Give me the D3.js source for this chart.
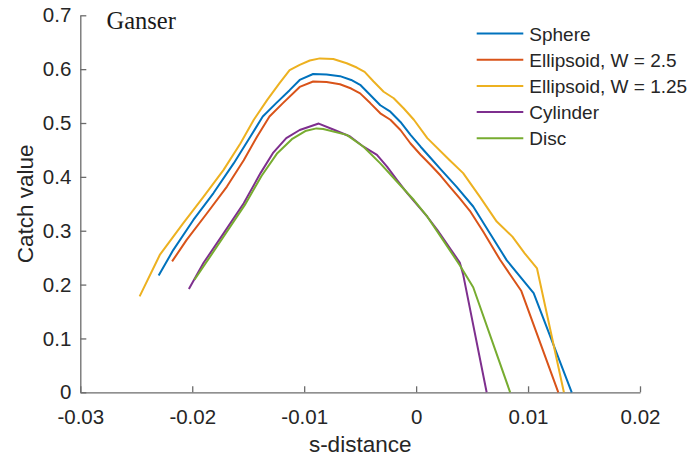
<!DOCTYPE html>
<html>
<head>
<meta charset="utf-8">
<script src="https://cdn.jsdelivr.net/npm/d3@7"></script>
<style>
  html, body { margin: 0; padding: 0; background: #fff; }
  svg { display: block; }
  .tick text { font-family: "Liberation Sans", Arial, sans-serif; font-size: 20.5px; fill: #262626; }
</style>
</head>
<body>
<svg id="chart" width="691" height="464"></svg>
<script>
// Catch value vs s-distance for five particle shapes (Ganser drag model)
const seriesNames = ["Sphere", "Ellipsoid, W = 2.5", "Ellipsoid, W = 1.25", "Cylinder", "Disc"];
const seriesColors = ["#0072BD", "#D95319", "#EDB120", "#7E2F8E", "#77AC30"];

const sphereX = [-0.0230, -0.0217, -0.0199, -0.0181, -0.0163, -0.0148, -0.0137, -0.0125, -0.0113, -0.0104, -0.0092, -0.0080, -0.0068, -0.0058, -0.0050, -0.0041, -0.0032, -0.0023, -0.0014, -0.0005, 0.0004, 0.0013, 0.0022, 0.0036, 0.0051, 0.0066, 0.0081, 0.0105, 0.0139];
const sphereY = [0.217, 0.264, 0.320, 0.370, 0.425, 0.475, 0.512, 0.537, 0.561, 0.580, 0.591, 0.590, 0.587, 0.580, 0.571, 0.552, 0.533, 0.521, 0.502, 0.478, 0.456, 0.435, 0.414, 0.382, 0.345, 0.295, 0.245, 0.184, 0.0];

const ell25X = [-0.0218, -0.0205, -0.0187, -0.0169, -0.0154, -0.0142, -0.0131, -0.0119, -0.0104, -0.0092, -0.0080, -0.0068, -0.0058, -0.0050, -0.0041, -0.0032, -0.0023, -0.0014, -0.0005, 0.0004, 0.0013, 0.0022, 0.0030, 0.0039, 0.0048, 0.0060, 0.0075, 0.0094, 0.0127];
const ell25Y = [0.243, 0.283, 0.332, 0.382, 0.431, 0.475, 0.512, 0.537, 0.567, 0.577, 0.576, 0.572, 0.564, 0.555, 0.537, 0.518, 0.506, 0.487, 0.462, 0.441, 0.422, 0.402, 0.382, 0.360, 0.337, 0.298, 0.246, 0.188, 0.0];

const ell125X = [-0.0247, -0.0229, -0.0208, -0.0190, -0.0172, -0.0157, -0.0145, -0.0133, -0.0122, -0.0113, -0.0104, -0.0095, -0.0086, -0.0074, -0.0062, -0.0053, -0.0046, -0.0038, -0.0029, -0.0020, -0.0011, -0.0002, 0.0010, 0.0030, 0.0042, 0.0057, 0.0072, 0.0086, 0.0097, 0.0108, 0.0132];
const ell125Y = [0.178, 0.255, 0.314, 0.363, 0.413, 0.462, 0.506, 0.543, 0.574, 0.598, 0.608, 0.616, 0.620, 0.619, 0.611, 0.603, 0.595, 0.577, 0.558, 0.546, 0.527, 0.506, 0.472, 0.431, 0.407, 0.363, 0.317, 0.289, 0.258, 0.230, 0.0];

const cylinderX = [-0.0203, -0.0190, -0.0172, -0.0154, -0.0139, -0.0128, -0.0116, -0.0104, -0.0087, -0.0074, -0.0059, -0.0047, -0.0035, -0.0026, -0.0017, -0.0008, 0.0001, 0.0010, 0.0019, 0.0039, 0.0042, 0.0063];
const cylinderY = [0.192, 0.240, 0.295, 0.351, 0.407, 0.444, 0.472, 0.487, 0.499, 0.488, 0.475, 0.456, 0.441, 0.419, 0.394, 0.370, 0.348, 0.326, 0.301, 0.241, 0.219, 0.0];

const discX = [-0.0198, -0.0171, -0.0153, -0.0138, -0.0124, -0.0111, -0.0099, -0.0089, -0.0083, -0.0062, -0.0047, -0.0032, -0.0017, -0.0002, 0.0010, 0.0022, 0.0039, 0.0051, 0.0084];
const discY = [0.209, 0.292, 0.348, 0.402, 0.444, 0.470, 0.485, 0.490, 0.489, 0.478, 0.456, 0.425, 0.391, 0.357, 0.326, 0.289, 0.236, 0.195, 0.0];

const xTicks = [-0.03, -0.02, -0.01, 0, 0.01, 0.02];
const yTicks = [0, 0.1, 0.2, 0.3, 0.4, 0.5, 0.6, 0.7];

const seriesX = [sphereX, ell25X, ell125X, cylinderX, discX];
const seriesY = [sphereY, ell25Y, ell125Y, cylinderY, discY];
const series = seriesNames.map((name, i) => ({
  name, color: seriesColors[i],
  points: seriesX[i].map((x, j) => [x, seriesY[i][j]])
}));

const margin = { left: 80.3, right: 51, top: 15.3, bottom: 71.7 };
const W = 691, H = 464;
const svg = d3.select("#chart");

const x = d3.scaleLinear().domain([-0.03, 0.02]).range([margin.left, W - margin.right]);
const y = d3.scaleLinear().domain([0, 0.7]).range([H - margin.bottom, margin.top]);

// plain hyphen for negatives, as in the original plotting tool
const fmt = d => d === 0 ? "0" : String(+d.toFixed(2));

// axes: ticks point inward, no box
const gx = svg.append("g")
  .attr("transform", `translate(0,${y(0)})`)
  .call(d3.axisBottom(x).tickValues(xTicks).tickFormat(fmt).tickSizeInner(-6).tickSizeOuter(0).tickPadding(17));
const gy = svg.append("g")
  .attr("transform", `translate(${x(-0.03)},0)`)
  .call(d3.axisLeft(y).tickValues(yTicks).tickFormat(fmt).tickSizeInner(-6).tickSizeOuter(0).tickPadding(9));
[gx, gy].forEach(g => {
  g.select(".domain").attr("stroke", "#6b6b6b").attr("stroke-width", 1.3);
  g.selectAll(".tick line").attr("stroke", "#6b6b6b").attr("stroke-width", 1.3);
});

// curves
const line = d3.line().x(d => x(d[0])).y(d => y(d[1]));
svg.append("g").selectAll("path").data(series).join("path")
  .attr("d", d => line(d.points))
  .attr("fill", "none")
  .attr("stroke", d => d.color)
  .attr("stroke-width", 2)
  .attr("stroke-linejoin", "round");

// axis labels
svg.append("text")
  .attr("x", (x(-0.03) + x(0.02)) / 2).attr("y", 452)
  .attr("text-anchor", "middle")
  .style("font-family", "Liberation Sans, Arial, sans-serif").style("font-size", "22.5px").style("fill", "#262626")
  .text("s-distance");
svg.append("text")
  .attr("transform", `translate(33,${(y(0) + y(0.7)) / 2}) rotate(-90)`)
  .attr("text-anchor", "middle")
  .style("font-family", "Liberation Sans, Arial, sans-serif").style("font-size", "22.5px").style("fill", "#262626")
  .text("Catch value");

// panel title
svg.append("text")
  .attr("x", 106.5).attr("y", 29)
  .style("font-family", "Liberation Serif, Times New Roman, serif").style("font-size", "24.5px").style("fill", "#1a1a1a")
  .text("Ganser");

// legend
const legend = svg.append("g").selectAll("g").data(series).join("g")
  .attr("transform", (d, i) => `translate(476.7,${33.5 + i * 26.2})`);
legend.append("line")
  .attr("x1", 0).attr("x2", 46.6).attr("y1", 0).attr("y2", 0)
  .attr("stroke", d => d.color).attr("stroke-width", 2);
legend.append("text")
  .attr("x", 52.6).attr("y", 7)
  .style("font-family", "Liberation Sans, Arial, sans-serif").style("font-size", "19px").style("fill", "#262626")
  .text(d => d.name);
</script>
</body>
</html>
